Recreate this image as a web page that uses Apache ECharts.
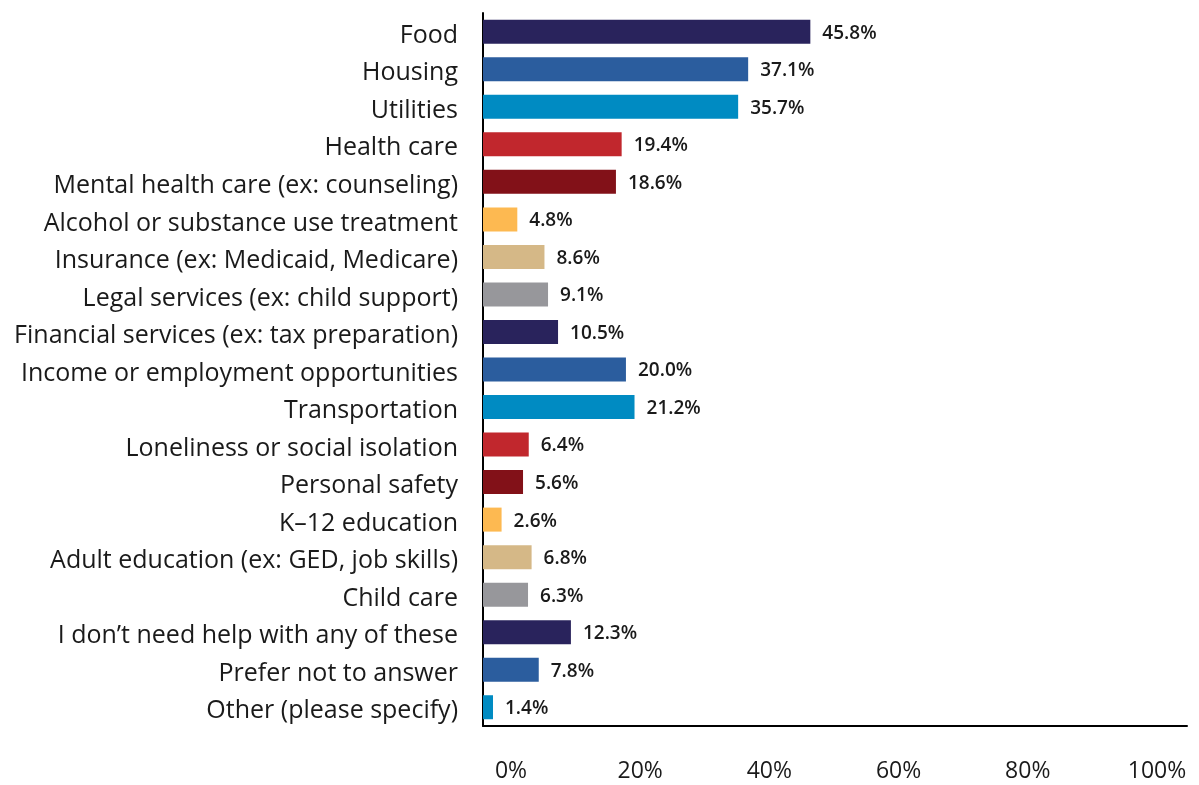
<!DOCTYPE html>
<html>
<head>
<meta charset="utf-8">
<title>Help needed</title>
<script src="https://cdn.jsdelivr.net/npm/echarts@6/dist/echarts.min.js"></script>
<style>
  html, body { margin: 0; padding: 0; background: #ffffff; }
  #chart { width: 1199px; height: 785px; }
</style>
</head>
<body>
<div id="chart"></div>
<script>
// Categories, top to bottom
const categories = [
  'Food',
  'Housing',
  'Utilities',
  'Health care',
  'Mental health care (ex: counseling)',
  'Alcohol or substance use treatment',
  'Insurance (ex: Medicaid, Medicare)',
  'Legal services (ex: child support)',
  'Financial services (ex: tax preparation)',
  'Income or employment opportunities',
  'Transportation',
  'Loneliness or social isolation',
  'Personal safety',
  'K\u201312 education',
  'Adult education (ex: GED, job skills)',
  'Child care',
  'I don\u2019t need help with any of these',
  'Prefer not to answer',
  'Other (please specify)'
];

// Share of respondents (%)
const values = [45.8, 37.1, 35.7, 19.4, 18.6, 4.8, 8.6, 9.1, 10.5, 20.0, 21.2, 6.4, 5.6, 2.6, 6.8, 6.3, 12.3, 7.8, 1.4];

// Bar colours, cycling through the palette
const palette = ['#29235c', '#2b5d9e', '#008bc2', '#c1272d', '#821118', '#fdb951', '#d5b887', '#97979b'];

// Labels along the value axis
const tickValues = [0, 20, 40, 60, 80, 100];

const FONT = 'Open Sans';
const chart = echarts.init(document.getElementById('chart'), null, { renderer: 'canvas' });

chart.setOption({
  animation: false,
  backgroundColor: '#ffffff',
  grid: { left: 483, top: 13, width: 704, height: 713, containLabel: false },
  xAxis: [
    {
      type: 'value',
      min: 0,
      max: 98.5,
      position: 'bottom',
      axisLine: { show: true, lineStyle: { color: '#000000', width: 2 } },
      axisTick: { show: false },
      axisLabel: { show: false },
      splitLine: { show: false }
    },
    {
      // label-only axis for the percentage scale under the chart
      type: 'value',
      min: -4.33,
      max: 104.65,
      position: 'bottom',
      axisLine: { show: false },
      axisTick: { show: false },
      splitLine: { show: false },
      axisLabel: {
        customValues: tickValues,
        formatter: v => v + '%',
        margin: 34,
        color: '#1a1a1a',
        fontFamily: FONT,
        fontSize: 23
      }
    }
  ],
  yAxis: {
    type: 'category',
    inverse: true,
    data: categories,
    axisLine: { show: true, lineStyle: { color: '#000000', width: 2 } },
    axisTick: { show: false },
    axisLabel: {
      margin: 25,
      formatter: v => '{t|' + v + '}',
      rich: {
        // top padding nudges the category names slightly below the bar centre
        t: {
          color: '#1a1a1a',
          fontFamily: FONT,
          fontSize: 25,
          padding: [8, 0, 0, 0]
        }
      }
    }
  },
  series: [
    {
      type: 'bar',
      xAxisIndex: 0,
      data: values,
      barWidth: 24,
      colorBy: 'data',
      color: palette,
      label: {
        show: true,
        position: 'right',
        distance: 12,
        formatter: p => '{v|' + p.value.toFixed(1) + '%}',
        rich: {
          v: {
            color: '#1a1a1a',
            fontFamily: FONT,
            fontSize: 19,
            fontWeight: 600,
            padding: [3, 0, 0, 0]
          }
        }
      }
    }
  ]
});
</script>
</body>
</html>
